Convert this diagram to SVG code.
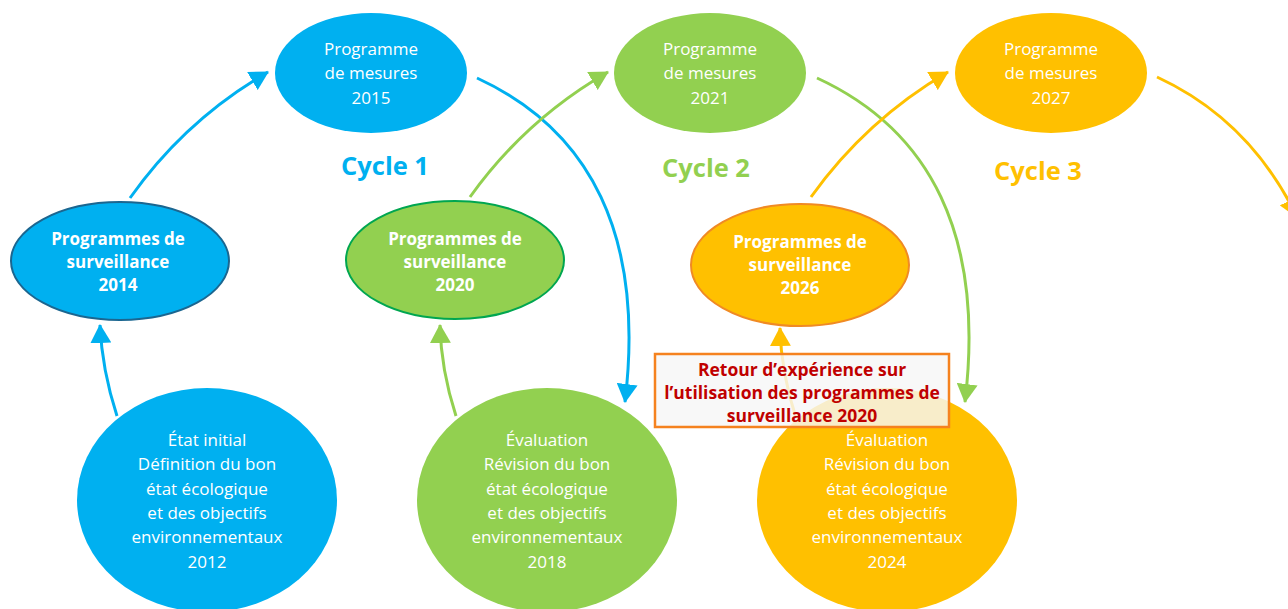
<svg xmlns="http://www.w3.org/2000/svg" width="1288" height="609" viewBox="0 0 1288 609">
<style>
text{font-family:"Open Sans","Liberation Sans",sans-serif;text-anchor:middle}
.t{fill:#FFFFFF;font-size:17px}
.b{fill:#FFFFFF;font-size:17px;font-weight:bold}
.cy{font-size:25.5px;font-weight:bold}
.r{fill:#C00000;font-size:17.5px;font-weight:bold}
.bl{fill:#00B0F0}.gr{fill:#92D050}.ye{fill:#FFC000}
.c{fill:none;stroke-width:3}
</style>
<defs>
<marker id="mb" viewBox="0 0 19 21" refX="18" refY="10.5" markerWidth="19" markerHeight="21" markerUnits="userSpaceOnUse" orient="auto"><path d="M0,0L19,10.5L0,21Z" fill="#00B0F0"/></marker>
<marker id="mg" viewBox="0 0 19 21" refX="18" refY="10.5" markerWidth="19" markerHeight="21" markerUnits="userSpaceOnUse" orient="auto"><path d="M0,0L19,10.5L0,21Z" fill="#92D050"/></marker>
<marker id="my" viewBox="0 0 19 21" refX="18" refY="10.5" markerWidth="19" markerHeight="21" markerUnits="userSpaceOnUse" orient="auto"><path d="M0,0L19,10.5L0,21Z" fill="#FFC000"/></marker>
</defs>
<rect width="1288" height="609" fill="#FFFFFF"/>

<g id="pm2015"><ellipse cx="371" cy="73" rx="96" ry="60" class="bl"/>
<text class="t" x="371" y="55">Programme</text><text class="t" x="371" y="79">de mesures</text><text class="t" x="371" y="104">2015</text></g>
<g id="pm2021"><ellipse cx="710" cy="73" rx="96" ry="60" class="gr"/>
<text class="t" x="710" y="55">Programme</text><text class="t" x="710" y="79">de mesures</text><text class="t" x="710" y="104">2021</text></g>
<g id="pm2027"><ellipse cx="1051" cy="73" rx="96" ry="60" class="ye"/>
<text class="t" x="1051" y="55">Programme</text><text class="t" x="1051" y="79">de mesures</text><text class="t" x="1051" y="104">2027</text></g>

<g id="ps2014"><ellipse cx="120" cy="261" rx="109" ry="59" fill="#00B0F0" stroke="#1B6690" stroke-width="2"/>
<text class="b" x="118" y="245">Programmes de</text><text class="b" x="118" y="268">surveillance</text><text class="b" x="118" y="291">2014</text></g>
<g id="ps2020"><ellipse cx="455" cy="260" rx="109" ry="59" fill="#92D050" stroke="#00A650" stroke-width="2"/>
<text class="b" x="455" y="245">Programmes de</text><text class="b" x="455" y="268">surveillance</text><text class="b" x="455" y="291">2020</text></g>
<g id="ps2026"><ellipse cx="800" cy="265" rx="109" ry="61" fill="#FFC000" stroke="#F08A24" stroke-width="2"/>
<text class="b" x="800" y="248">Programmes de</text><text class="b" x="800" y="271">surveillance</text><text class="b" x="800" y="294">2026</text></g>

<g id="ev2012"><ellipse cx="207" cy="500" rx="130" ry="112" class="bl"/>
<text class="t" x="207" y="446">État initial</text><text class="t" x="207" y="470">Définition du bon</text><text class="t" x="207" y="495">état écologique</text><text class="t" x="207" y="519">et des objectifs</text><text class="t" x="207" y="543">environnementaux</text><text class="t" x="207" y="568">2012</text></g>
<g id="ev2018"><ellipse cx="547" cy="500" rx="130" ry="112" class="gr"/>
<text class="t" x="547" y="446">Évaluation</text><text class="t" x="547" y="470">Révision du bon</text><text class="t" x="547" y="495">état écologique</text><text class="t" x="547" y="519">et des objectifs</text><text class="t" x="547" y="543">environnementaux</text><text class="t" x="547" y="568">2018</text></g>
<g id="ev2024"><ellipse cx="887" cy="500" rx="130" ry="112" class="ye"/>
<text class="t" x="887" y="446">Évaluation</text><text class="t" x="887" y="470">Révision du bon</text><text class="t" x="887" y="495">état écologique</text><text class="t" x="887" y="519">et des objectifs</text><text class="t" x="887" y="543">environnementaux</text><text class="t" x="887" y="568">2024</text></g>

<g id="cycles">
<text class="cy bl" x="385" y="175">Cycle 1</text>
<text class="cy gr" x="706" y="177">Cycle 2</text>
<text class="cy ye" x="1038" y="180">Cycle 3</text>
</g>

<g id="connectors">
<path class="c" stroke="#00B0F0" marker-end="url(#mb)" d="M130,198 Q185,120 268,72"/>
<path class="c" stroke="#00B0F0" marker-end="url(#mb)" d="M477,78 C590,130 645,235 625,402"/>
<path class="c" stroke="#00B0F0" marker-end="url(#mb)" d="M117,416 Q102,370 100,325"/>
<path class="c" stroke="#92D050" marker-end="url(#mg)" d="M470,197 Q525,120 608,72"/>
<path class="c" stroke="#92D050" marker-end="url(#mg)" d="M817,78 C930,130 985,235 965,402"/>
<path class="c" stroke="#92D050" marker-end="url(#mg)" d="M456,416 Q441,370 440,325"/>
<path class="c" stroke="#FFC000" marker-end="url(#my)" d="M811,197 Q866,120 948,72"/>
<path class="c" stroke="#FFC000" marker-end="url(#my)" d="M1157,77 Q1250,120 1297,217"/>
<path class="c" stroke="#FFC000" marker-end="url(#my)" d="M796,418 Q781,372 780,328"/>
</g>

<g id="retour">
<rect x="655" y="354" width="294" height="73" fill="#F7F7F7" fill-opacity="0.82" stroke="#F5821F" stroke-width="2.5"/>
<text class="r" x="802" y="376">Retour d’expérience sur</text>
<text class="r" x="802" y="399">l’utilisation des programmes de</text>
<text class="r" x="802" y="422">surveillance 2020</text>
</g>
</svg>
